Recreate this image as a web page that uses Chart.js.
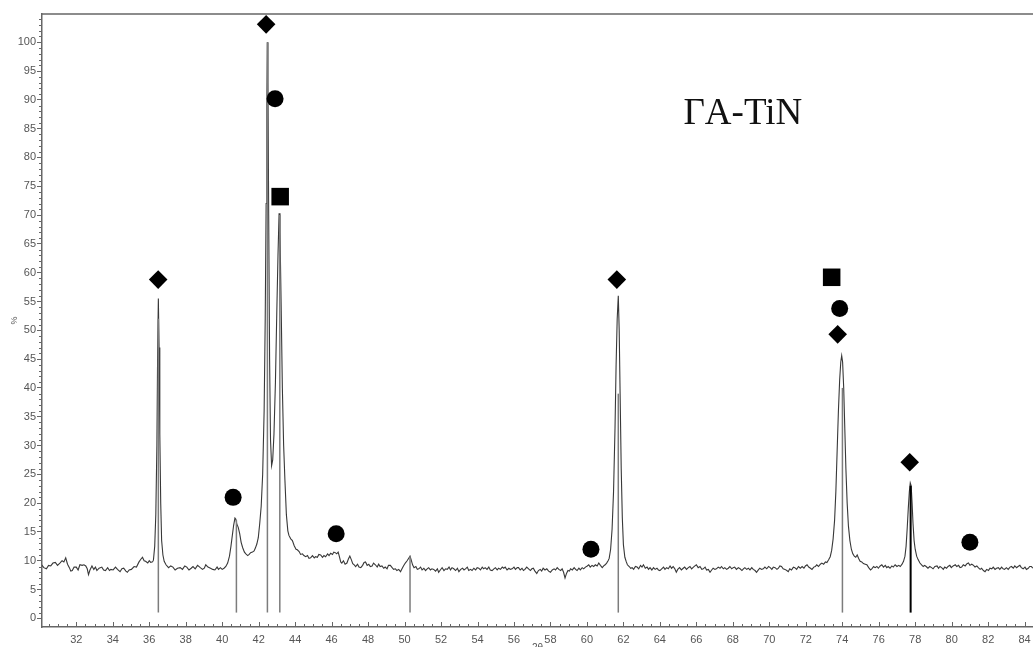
<!DOCTYPE html>
<html>
<head>
<meta charset="utf-8">
<script src="https://cdn.jsdelivr.net/npm/chart.js@4"></script>
<style>
html, body { margin: 0; padding: 0; background: #fff; overflow: hidden; }
#wrap { width: 1033px; height: 647px; position: relative; }
canvas { display: block; }
</style>
</head>
<body>
<div id="wrap"><canvas id="chart"></canvas></div>
<script>
// diffraction scan: [2theta, intensity %]
const scan = [
  [30.10,9.3],[30.22,8.8],[30.36,8.6],[30.48,9.2],[30.60,9.1],[30.72,9.6],[30.85,9.7],[30.97,9.2],[31.10,9.6],[31.22,10.0],
  [31.32,9.8],[31.42,10.5],[31.52,9.4],[31.62,8.8],[31.70,8.2],[31.78,8.3],[31.88,8.9],[32.00,8.9],[32.10,8.4],[32.20,9.3],
  [32.32,9.2],[32.42,9.3],[32.52,9.1],[32.60,8.6],[32.67,7.6],[32.75,8.4],[32.86,9.1],[32.96,8.5],[33.05,8.9],[33.13,8.3],
  [33.25,8.7],[33.40,8.9],[33.50,8.4],[33.60,8.3],[33.72,8.8],[33.82,8.3],[33.90,8.5],[34.02,8.4],[34.15,8.9],[34.26,8.5],
  [34.40,8.1],[34.50,8.6],[34.60,8.7],[34.72,8.2],[34.80,8.0],[34.90,8.4],[35.02,8.5],[35.17,9.0],[35.30,8.9],[35.44,9.8],
  [35.55,10.3],[35.63,10.6],[35.72,10.0],[35.80,9.9],[35.92,9.6],[36.00,10.0],[36.08,9.7],[36.18,9.8],[36.23,10.1],
  [36.30,12.5],[36.36,18],[36.42,30],[36.46,46],[36.50,55.5],[36.54,47],[36.58,32],[36.63,20],[36.68,13.5],[36.75,11],
  [36.82,9.9],[36.92,9.3],[37.06,8.8],[37.18,9.1],[37.30,8.9],[37.42,8.4],[37.55,8.7],[37.70,8.8],[37.82,8.5],[37.95,9.1],
  [38.06,8.9],[38.18,8.4],[38.30,8.7],[38.40,9.0],[38.52,8.6],[38.65,9.2],[38.80,8.8],[38.92,8.5],[39.02,8.7],[39.10,9.3],
  [39.22,8.9],[39.36,8.7],[39.48,8.5],[39.60,8.4],[39.72,8.9],[39.80,8.5],[39.90,8.8],[40.00,8.5],[40.10,8.7],[40.20,9.0],
  [40.30,9.6],[40.40,10.8],[40.48,12.5],[40.56,14.5],[40.63,16.2],[40.70,17.4],[40.75,17.2],[40.80,16.4],[40.88,15.8],[40.96,14.7],
  [41.04,13.2],[41.12,12.3],[41.22,11.5],[41.30,11.2],[41.40,10.9],[41.48,11.1],[41.56,11.4],[41.66,11.5],[41.75,11.7],[41.82,12.2],
  [41.90,12.9],[41.98,14.0],[42.06,16.5],[42.14,19.5],[42.22,25],[42.30,36],[42.36,52],[42.41,72],[42.45,90],[42.48,100],
  [42.51,93],[42.55,70],[42.60,45],[42.65,31],[42.71,26.5],[42.77,27.5],[42.84,32],[42.92,41],[43.00,54],[43.06,63],
  [43.12,70.3],[43.17,67],[43.23,55],[43.30,40],[43.37,30],[43.44,24],[43.52,18],[43.60,15.2],[43.66,14.4],[43.76,13.8],
  [43.85,13.5],[43.95,12.6],[44.05,12.0],[44.12,11.9],[44.22,11.6],[44.30,11.1],[44.40,11.2],[44.48,10.9],[44.58,10.7],[44.68,10.9],
  [44.76,10.4],[44.85,10.5],[44.95,10.9],[45.05,10.5],[45.12,10.7],[45.22,10.6],[45.30,11.1],[45.40,11.0],[45.50,10.6],[45.58,10.9],
  [45.67,10.7],[45.78,11.2],[45.86,10.9],[45.95,11.3],[46.05,11.1],[46.12,11.5],[46.20,11.4],[46.28,11.2],[46.36,11.5],[46.42,10.8],
  [46.50,9.8],[46.56,9.6],[46.65,10.0],[46.74,9.4],[46.84,9.6],[46.92,10.3],[47.00,10.8],[47.08,10.2],[47.16,9.5],[47.24,9.3],
  [47.32,9.0],[47.42,9.4],[47.50,8.9],[47.60,8.8],[47.70,9.2],[47.78,9.7],[47.86,9.8],[47.95,9.2],[48.04,9.4],[48.12,9.0],
  [48.22,9.1],[48.30,9.6],[48.40,9.3],[48.50,8.9],[48.58,9.4],[48.66,9.0],[48.76,9.1],[48.86,8.7],[48.94,8.9],[49.04,8.6],
  [49.12,9.2],[49.22,9.2],[49.32,8.8],[49.40,8.5],[49.50,8.6],[49.58,8.3],[49.68,8.5],[49.78,8.1],[49.86,8.6],[49.94,9.1],
  [50.04,9.6],[50.14,10.0],[50.22,10.4],[50.30,10.8],[50.36,10.2],[50.44,9.3],[50.52,8.8],[50.62,9.0],[50.70,8.5],[50.78,8.6],
  [50.88,8.9],[50.96,8.4],[51.06,8.7],[51.15,8.3],[51.24,8.6],[51.32,8.8],[51.42,8.4],[51.50,8.6],[51.60,8.5],[51.70,8.2],
  [51.80,8.6],[51.87,8.0],[51.96,8.4],[52.06,8.8],[52.16,8.3],[52.25,8.6],[52.34,8.5],[52.44,8.9],[52.52,8.4],[52.60,8.8],
  [52.70,8.6],[52.80,8.3],[52.90,8.7],[52.98,8.1],[53.08,8.5],[53.18,8.7],[53.26,8.4],[53.34,8.6],[53.44,8.9],[53.52,8.3],
  [53.62,8.5],[53.70,8.3],[53.80,8.7],[53.90,8.4],[53.98,8.8],[54.07,8.7],[54.16,8.4],[54.26,8.9],[54.34,8.6],[54.42,8.8],
  [54.52,8.5],[54.62,8.9],[54.70,8.4],[54.80,8.3],[54.90,8.6],[54.98,8.8],[55.08,8.4],[55.16,8.7],[55.26,8.5],[55.36,8.9],
  [55.44,8.7],[55.52,8.9],[55.62,8.4],[55.72,8.7],[55.80,8.5],[55.90,8.6],[56.00,8.9],[56.08,8.5],[56.18,8.8],[56.25,8.8],
  [56.34,8.4],[56.44,8.7],[56.52,8.3],[56.60,8.5],[56.70,8.9],[56.80,8.6],[56.90,8.3],[56.98,8.6],[57.06,8.7],[57.15,8.2],
  [57.25,7.8],[57.34,8.3],[57.44,8.5],[57.52,8.2],[57.60,8.7],[57.70,8.4],[57.80,8.6],[57.90,8.2],[58.00,8.0],[58.10,8.4],
  [58.20,8.6],[58.28,8.4],[58.37,8.8],[58.46,8.5],[58.56,8.3],[58.64,8.6],[58.72,8.0],[58.80,7.0],[58.88,7.8],[58.96,8.3],
  [59.04,8.2],[59.10,8.6],[59.20,8.4],[59.30,8.8],[59.38,8.5],[59.46,8.3],[59.56,8.7],[59.64,8.4],[59.74,8.8],[59.82,8.6],
  [59.92,8.9],[60.02,9.1],[60.10,9.3],[60.18,8.9],[60.28,9.2],[60.37,9.0],[60.46,9.3],[60.56,9.1],[60.65,9.6],[60.74,9.2],
  [60.84,8.8],[60.92,9.1],[61.00,9.3],[61.08,9.6],[61.16,10.0],[61.22,10.4],[61.30,12.0],[61.38,15.5],[61.46,22],[61.54,33],
  [61.60,44],[61.66,52],[61.72,56],[61.77,50],[61.82,39],[61.88,26],[61.94,17.5],[62.00,12.8],[62.08,10.6],[62.16,9.8],
  [62.22,9.3],[62.32,9.0],[62.40,8.7],[62.48,8.8],[62.56,8.5],[62.66,9.0],[62.75,8.9],[62.84,8.6],[62.94,9.2],[63.02,8.9],
  [63.10,9.3],[63.20,8.7],[63.30,8.9],[63.38,8.5],[63.46,8.8],[63.56,8.4],[63.65,8.8],[63.74,8.5],[63.84,8.7],[63.92,8.4],
  [64.00,8.3],[64.10,8.6],[64.20,8.9],[64.28,8.5],[64.37,8.8],[64.46,8.6],[64.56,9.1],[64.64,8.7],[64.73,9.0],[64.82,8.6],
  [64.90,8.0],[64.98,8.5],[65.08,8.8],[65.18,8.4],[65.28,8.7],[65.36,8.9],[65.46,8.5],[65.56,8.8],[65.65,9.0],[65.74,8.6],
  [65.84,8.9],[65.92,9.1],[66.00,9.3],[66.10,8.8],[66.20,9.0],[66.30,8.5],[66.38,8.6],[66.48,8.9],[66.56,8.4],[66.66,8.5],
  [66.75,8.0],[66.84,8.4],[66.92,8.7],[67.02,8.5],[67.10,8.6],[67.20,8.9],[67.30,8.7],[67.38,9.0],[67.48,8.6],[67.56,8.8],
  [67.66,8.5],[67.75,8.7],[67.84,9.0],[67.94,8.6],[68.02,8.8],[68.10,8.9],[68.20,8.5],[68.30,8.8],[68.40,8.6],[68.50,8.3],
  [68.58,8.6],[68.66,8.8],[68.76,8.5],[68.85,8.7],[68.94,8.4],[69.04,8.8],[69.12,8.5],[69.22,8.3],[69.30,8.0],[69.40,8.4],
  [69.48,8.7],[69.58,8.5],[69.67,8.6],[69.76,8.9],[69.86,8.6],[69.96,9.0],[70.05,8.8],[70.14,8.5],[70.22,8.9],[70.32,8.8],
  [70.42,8.5],[70.50,8.7],[70.58,9.1],[70.67,9.0],[70.76,8.6],[70.86,8.5],[70.96,8.3],[71.04,8.1],[71.12,8.6],[71.22,8.4],
  [71.32,8.9],[71.40,8.8],[71.50,8.5],[71.60,9.0],[71.70,8.7],[71.80,9.0],[71.90,8.7],[71.98,9.1],[72.07,9.3],[72.16,8.9],
  [72.26,8.7],[72.34,8.5],[72.44,8.9],[72.52,9.0],[72.60,9.3],[72.70,9.0],[72.80,9.4],[72.88,9.6],[72.98,9.4],[73.08,9.8],
  [73.16,9.7],[73.26,10.2],[73.34,10.7],[73.42,11.8],[73.50,13.8],[73.58,17],[73.65,22],[73.72,29],[73.79,36],[73.86,41.5],
  [73.92,44.5],[73.97,45.6],[74.02,44.5],[74.08,40],[74.14,33],[74.20,26],[74.27,20],[74.34,16],[74.42,13.5],[74.50,12],
  [74.58,11.2],[74.66,10.8],[74.74,10.6],[74.82,11.0],[74.90,10.4],[74.98,9.9],[75.07,9.8],[75.16,9.5],[75.26,9.4],[75.35,9.3],
  [75.45,8.8],[75.55,8.4],[75.62,8.6],[75.72,9.0],[75.80,8.8],[75.90,9.0],[75.98,8.7],[76.08,9.1],[76.17,9.3],[76.26,8.9],
  [76.36,9.2],[76.44,8.8],[76.52,9.0],[76.62,8.7],[76.72,9.1],[76.80,8.9],[76.90,9.3],[77.00,9.0],[77.10,9.2],[77.18,9.0],
  [77.28,9.4],[77.36,9.9],[77.44,10.8],[77.50,12.5],[77.56,15.5],[77.62,19],[77.68,22],[77.73,23.5],[77.78,23],[77.83,20],
  [77.88,16.5],[77.94,13.5],[78.00,12],[78.08,10.8],[78.16,10.2],[78.26,9.6],[78.35,9.3],[78.44,9.0],[78.52,9.2],[78.60,9.0],
  [78.70,8.7],[78.80,9.0],[78.90,8.8],[78.98,8.6],[79.08,9.0],[79.20,9.1],[79.28,8.7],[79.36,9.0],[79.45,8.8],[79.54,8.5],
  [79.62,8.9],[79.72,8.7],[79.80,9.0],[79.90,9.2],[79.98,8.8],[80.08,9.1],[80.20,9.3],[80.28,9.0],[80.38,9.2],[80.46,8.8],
  [80.55,8.9],[80.64,9.3],[80.74,9.1],[80.84,9.5],[80.92,9.6],[81.00,9.2],[81.10,9.4],[81.20,9.2],[81.28,8.9],[81.38,9.1],
  [81.46,8.8],[81.56,8.5],[81.64,8.7],[81.74,8.3],[81.83,8.1],[81.92,8.5],[82.02,8.3],[82.10,8.7],[82.20,8.6],[82.28,8.9],
  [82.38,8.5],[82.46,8.7],[82.56,8.8],[82.64,8.5],[82.74,8.9],[82.82,8.6],[82.90,8.5],[83.00,8.8],[83.10,8.5],[83.20,8.9],
  [83.28,9.0],[83.38,8.7],[83.46,9.1],[83.56,8.8],[83.64,9.0],[83.74,9.2],[83.82,8.8],[83.92,8.6],[84.02,8.9],[84.10,8.5],
  [84.20,8.7],[84.28,9.0],[84.37,9.0],[84.46,8.7]
];

// reference lines (card positions)
const stickAngles  = [36.5, 40.78, 42.48, 43.16, 50.3, 61.72, 74.01, 77.75];
const stickHeights = [52, 17, 100, 70, 10.8, 39, 40, 23];
const stickBase = 1;

// phase markers
const diamondAngles = [36.49, 42.41, 61.64, 73.75, 77.7];
const diamondLevels = [58.8, 103.1, 58.8, 49.3, 27.1];
const circleAngles  = [40.6, 42.9, 46.25, 60.22, 73.86, 81.0];
const circleLevels  = [21.0, 90.2, 14.7, 12.0, 53.8, 13.2];
const squareAngles  = [43.18, 73.42];
const squareLevels  = [73.2, 59.2];

const xTicks = [32,34,36,38,40,42,44,46,48,50,52,54,56,58,60,62,64,66,68,70,72,74,76,78,80,82,84];
const yTicks = [0,5,10,15,20,25,30,35,40,45,50,55,60,65,70,75,80,85,90,95,100];

const sampleLabel = 'ГA-TiN';
const labelAt = {x: 68.55, y: 85.8};

function pts(xs, ys) {
    return xs.map((x, i) => ({x: x, y: ys[i]}));
}

let datasets = [];
datasets.push({ data: pts(diamondAngles, diamondLevels), pointStyle: 'rectRot', pointRadius: 9.3,
    backgroundColor: '#000', borderWidth: 0, order: 0, clip: false });
datasets.push({ data: pts(circleAngles, circleLevels), pointStyle: 'circle', pointRadius: 8.5,
    backgroundColor: '#000', borderWidth: 0, order: 0, clip: false });
datasets.push({ data: pts(squareAngles, squareLevels), pointStyle: 'rect', pointRadius: 12.4,
    backgroundColor: '#000', borderWidth: 0, order: 0, clip: false });

for (let i = 0; i < stickAngles.length; i++) {
    datasets.push({
        data: [{x: stickAngles[i], y: stickBase}, {x: stickAngles[i], y: stickHeights[i]}],
        showLine: true, pointRadius: 0,
        borderColor: i === 7 ? '#000' : '#7c7c7c',
        borderWidth: i === 7 ? 2 : 1.5,
        order: 1
    });
}

datasets.push({
    data: scan.map(p => ({x: p[0], y: p[1]})),
    showLine: true, pointRadius: 0, tension: 0,
    borderColor: '#383838', borderWidth: 1.1,
    order: 2
});

const overlay = {
    id: 'overlay',
    afterDatasetsDraw(chart) {
        const c = chart.ctx;
        const a = chart.chartArea;
        const x = chart.scales.x, y = chart.scales.y;
        c.save();
        c.strokeStyle = '#666';
        c.lineWidth = 1.5;
        c.beginPath();
        c.moveTo(a.left, a.top);
        c.lineTo(a.right, a.top);
        c.stroke();

        // minor ticks
        c.lineWidth = 1;
        c.beginPath();
        for (let v = 0; v <= 104; v++) {
            if (v % 5 === 0) continue;
            const py = Math.round(y.getPixelForValue(v)) + 0.5;
            c.moveTo(a.left - 3, py);
            c.lineTo(a.left, py);
        }
        for (let v = 30.5; v <= 84.4; v += 0.5) {
            const px = Math.round(x.getPixelForValue(v)) + 0.5;
            const len = v % 2 === 0 ? 5 : 3;
            c.moveTo(px, a.bottom);
            c.lineTo(px, a.bottom - len);
        }
        c.stroke();

        c.fillStyle = '#111';
        c.font = '37px "Liberation Serif"';
        c.textAlign = 'center';
        c.textBaseline = 'alphabetic';
        c.fillText(sampleLabel, x.getPixelForValue(labelAt.x), y.getPixelForValue(labelAt.y));

        c.fillStyle = '#555';
        c.font = '10px "Liberation Sans"';
        c.textBaseline = 'top';
        c.fillText('2θ', (a.left + a.right) / 2, a.bottom + 16);
        c.restore();
    }
};

const tickFont = {family: '"Liberation Sans", Arial, sans-serif', size: 11};

new Chart(document.getElementById('chart'), {
    type: 'scatter',
    data: {datasets: datasets},
    options: {
        responsive: true,
        maintainAspectRatio: false,
        animation: false,
        layout: {autoPadding: false, padding: {top: 14, left: 0, right: 0, bottom: 0}},
        plugins: {legend: {display: false}, tooltip: {enabled: false}},
        scales: {
            x: {
                type: 'linear', min: 30.12, max: 84.46,
                afterBuildTicks: s => { s.ticks = xTicks.map(v => ({value: v})); },
                afterFit: s => { s.height = 20; s.paddingLeft = 0; s.paddingRight = 0; },
                grid: {drawOnChartArea: false, drawTicks: false},
                border: {display: true, color: '#666', width: 1.5},
                ticks: {padding: 6, color: '#555', font: tickFont, maxRotation: 0, autoSkip: false}
            },
            y: {
                type: 'linear', min: -1.5, max: 104.9,
                afterBuildTicks: s => { s.ticks = yTicks.map(v => ({value: v})); },
                afterFit: s => { s.width = 42; s.paddingTop = 0; s.paddingBottom = 0; },
                grid: {drawOnChartArea: false, drawTicks: true, tickLength: 5, color: '#666'},
                border: {display: true, color: '#666', width: 1.5},
                ticks: {padding: 1, color: '#555', font: tickFont},
                title: {display: true, text: '%', color: '#555', font: {size: 9}, padding: {top: 9, bottom: 0}}
            }
        }
    },
    plugins: [overlay]
});
</script>
</body>
</html>
